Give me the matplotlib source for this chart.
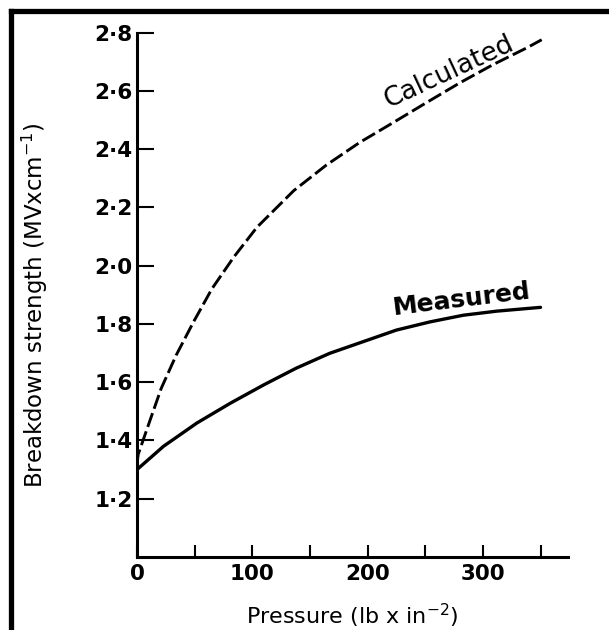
import matplotlib.pyplot as plt
from matplotlib.lines import Line2D

# values
pressure_meas = [0, 23, 52, 81, 110, 138, 167, 196, 225, 254, 283, 312, 350]
strength_meas = [1.30, 1.38, 1.46, 1.528, 1.591, 1.648, 1.699, 1.739, 1.779, 1.807, 1.830, 1.844, 1.857]

pressure_calc = [0, 1, 11, 21, 34, 49, 65, 84, 104, 136, 164, 193, 222, 251, 280, 309, 338, 351]
strength_calc = [1.32, 1.352, 1.466, 1.579, 1.693, 1.807, 1.921, 2.030, 2.132, 2.258,
                 2.345, 2.423, 2.491, 2.560, 2.628, 2.691, 2.748, 2.776]

x_major = [0, 100, 200, 300]
x_minor = [50, 150, 250, 350]
y_ticks = [1.2, 1.4, 1.6, 1.8, 2.0, 2.2, 2.4, 2.6, 2.8]
y_labels = ['1·2', '1·4', '1·6', '1·8', '2·0', '2·2', '2·4', '2·6', '2·8']

plt.rcParams['font.family'] = ['DejaVu Sans']

fig = plt.figure(figsize=(6.09, 6.30), dpi=100)
ax = fig.add_axes([0.225, 0.116, 0.708, 0.832])

ax.plot(pressure_meas, strength_meas, color='black', lw=2.4, solid_capstyle='round')
ax.plot(pressure_calc, strength_calc, color='black', lw=2.1, dashes=(5, 1.6))

ax.set_xlim(0, 374)
ax.set_ylim(1.0, 2.8)

ax.set_xticks(x_major)
ax.set_xticks(x_minor, minor=True)
ax.set_yticks(y_ticks)
ax.set_yticklabels(y_labels)

ax.tick_params(axis='x', which='both', direction='in', length=8.5, width=1.5,
               labelsize=15.5, pad=5)
ax.tick_params(axis='y', direction='in', length=12.5, width=1.5, labelsize=15.5, pad=3)
for lab in ax.get_xticklabels() + ax.get_yticklabels():
    lab.set_fontweight('bold')

for side in ['top', 'right']:
    ax.spines[side].set_visible(False)
for side in ['left', 'bottom']:
    ax.spines[side].set_linewidth(2.2)

ax.set_xlabel('Pressure (lb x in$^{-2}$)', fontsize=16)
ax.xaxis.set_label_coords(0.5, -0.085)
ax.set_ylabel('Breakdown strength (MVxcm$^{-1}$)', fontsize=16.5, va='center')
ax.yaxis.set_label_coords(-0.237, 0.48)

# curve labels written along the lines
ax.text(271, 2.665, 'Calculated', fontsize=19, fontweight='medium', rotation=25,
        ha='center', va='center')
ax.text(282, 1.885, 'Measured', fontsize=18, fontweight='bold', rotation=7,
        ha='center', va='center')

# thick frame of the scan (top and left edges)
fig.add_artist(Line2D([0.018, 1.0], [0.983, 0.983], color='black', lw=3.8,
                      solid_capstyle='projecting', transform=fig.transFigure))
fig.add_artist(Line2D([0.018, 0.018], [0.0, 0.983], color='black', lw=3.8,
                      solid_capstyle='projecting', transform=fig.transFigure))

fig.savefig('out.png', dpi=100)
